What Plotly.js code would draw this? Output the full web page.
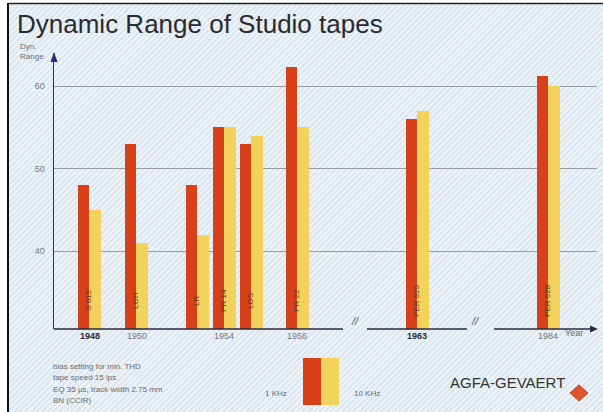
<!DOCTYPE html>
<html>
<head>
<meta charset="utf-8">
<script src="https://cdn.plot.ly/plotly-3.0.1.min.js"></script>
<style>
  html, body { margin: 0; padding: 0; background: #ffffff; }
  #chart {
    width: 603px; height: 412px;
    background: repeating-linear-gradient(135deg, #dbe6ef 0px, #dbe6ef 2px, #eef3f7 2px, #eef3f7 4px);
  }
</style>
</head>
<body>
<div id="chart"></div>
<script>
// ---- data ----
const tapes  = ["S 015", "LGH", "LR", "PR 14", "LGS", "PR 22", "PER 525", "PER 528"];
const years  = [1948, 1950, 1954, 1954, 1954, 1956, 1963, 1984];
const khz1   = [48, 53, 48, 55, 53, 62.3, 56, 61.2];   // 1 kHz
const khz10  = [45, 41, 42, 55, 54, 55, 57, 60];       // 10 kHz
const yearTickText = ["1948", "1950", "1954", "1956", "1963", "1984"];
const boldYears = ["1948", "1963"];
const yTicks = [40, 50, 60];
const notes = ["bias setting for min. THD", "tape speed 15 ips", "EQ 35 \u00b5s, track width 2.75 mm", "BN (CCIR)"];

// ---- layout helpers (positions on the time axis, in plot units) ----
const slotX = [89, 136, 197, 224, 251, 297, 417, 548];
const yearTickX = [90, 137, 224, 297, 417, 548];
const BW = 11.5;
const RED = "#d8401a", YEL = "#f3d25c";

const L = 54, R = 6, T = 53, B = 83, W = 603, H = 412;
const pw = W - L - R, ph = H - T - B;
const px = x => (x - L) / pw;          // pixel -> paper x
const py = y => (H - B - y) / ph;      // pixel -> paper y
const FONT = "Liberation Sans, Arial";

const traces = [
  { type: "bar", name: "1 KHz", x: slotX, y: khz1, width: BW, offset: -BW,
    marker: { color: RED, line: { width: 0 } }, hoverinfo: "skip", showlegend: false },
  { type: "bar", name: "10 KHz", x: slotX, y: khz10, width: BW, offset: 0,
    marker: { color: YEL, line: { width: 0 } }, hoverinfo: "skip", showlegend: false }
];

const ann = [];
// tape names on the bars
tapes.forEach((t, i) => ann.push({ x: slotX[i], y: 34, xref: "x", yref: "y", text: t, textangle: -90,
  showarrow: false, font: { family: FONT, size: 8, color: "#4a3a20" } }));
// axis titles
ann.push({ x: px(18), y: py(46), xref: "paper", yref: "paper", text: "Dyn.", xanchor: "left", yanchor: "middle",
  showarrow: false, font: { family: FONT, size: 8, color: "#6a6a7a" } });
ann.push({ x: px(18), y: py(56), xref: "paper", yref: "paper", text: "Range", xanchor: "left", yanchor: "middle",
  showarrow: false, font: { family: FONT, size: 8, color: "#6a6a7a" } });
ann.push({ x: px(585), y: py(340), xref: "paper", yref: "paper", text: "Year", showarrow: false,
  font: { family: FONT, size: 9, color: "#6a6a6a" } });
// axis break marks
[355, 481].forEach(x => ann.push({ x: px(x), y: py(329), xref: "paper", yref: "paper", text: "<i>//</i>",
  showarrow: false, font: { family: FONT, size: 11, color: "#555" } }));
// notes
notes.forEach((n, i) => ann.push({ x: px(51), y: py(366 + i * 11.5), xref: "paper", yref: "paper", text: n,
  xanchor: "left", yanchor: "middle", showarrow: false, font: { family: FONT, size: 8, color: "#6a6a72" } }));
// legend labels
ann.push({ x: px(276), y: py(400), xref: "paper", yref: "paper", text: "1 KHz", showarrow: false,
  font: { family: FONT, size: 8, color: "#6a6a72" } });
ann.push({ x: px(367), y: py(400), xref: "paper", yref: "paper", text: "10 KHz", showarrow: false,
  font: { family: FONT, size: 8, color: "#6a6a72" } });
// brand
ann.push({ x: px(567), y: py(393), xref: "paper", yref: "paper", text: "AGFA-GEVAERT", xanchor: "right",
  showarrow: false, font: { family: FONT, size: 15, color: "#333" } });

const shapes = [
  // white margins and frame
  { type: "rect", xref: "paper", yref: "paper", x0: px(-5), x1: px(8), y0: py(420), y1: py(-5), fillcolor: "#ffffff", line: { width: 0 }, layer: "below" },
  { type: "rect", xref: "paper", yref: "paper", x0: px(-5), x1: px(610), y0: py(3), y1: py(-5), fillcolor: "#ffffff", line: { width: 0 }, layer: "below" },
  { type: "line", xref: "paper", yref: "paper", x0: px(8), x1: px(8), y0: py(3), y1: py(412), line: { color: "#111", width: 2 } },
  { type: "line", xref: "paper", yref: "paper", x0: px(8), x1: px(603), y0: py(3.5), y1: py(3.5), line: { color: "#222", width: 1.5 } },
  // baseline with breaks
  { type: "line", xref: "paper", yref: "paper", x0: 0, x1: px(343), y0: 0, y1: 0, line: { color: "#2a2a40", width: 1.5 } },
  { type: "line", xref: "paper", yref: "paper", x0: px(367), x1: px(467), y0: 0, y1: 0, line: { color: "#2a2a40", width: 1.5 } },
  { type: "line", xref: "paper", yref: "paper", x0: px(494), x1: px(592), y0: 0, y1: 0, line: { color: "#2a2a40", width: 1.5 } },
  // arrow heads
  { type: "path", xref: "paper", yref: "paper", path: `M ${px(590)} ${py(325.5)} L ${px(598)} ${py(329)} L ${px(590)} ${py(332.5)} Z`, fillcolor: "#2a2a40", line: { width: 0 } },
  { type: "path", xref: "paper", yref: "paper", path: `M ${px(50.5)} ${py(62)} L ${px(54)} ${py(52)} L ${px(57.5)} ${py(62)} Z`, fillcolor: "#2b2b7a", line: { width: 0 } },
  // legend swatches
  { type: "rect", xref: "paper", yref: "paper", x0: px(303), x1: px(321), y0: py(405), y1: py(358), fillcolor: RED, line: { width: 0 } },
  { type: "rect", xref: "paper", yref: "paper", x0: px(321), x1: px(339), y0: py(405), y1: py(358), fillcolor: YEL, line: { width: 0 } },
  // logo diamond
  { type: "path", xref: "paper", yref: "paper", path: `M ${px(570)} ${py(393)} L ${px(579)} ${py(385)} L ${px(588)} ${py(393)} L ${px(579)} ${py(401)} Z`, fillcolor: "#e0562c", line: { color: "#c84020", width: 1 } }
];

const tickText = yearTickText.map(t => boldYears.includes(t)
  ? `<b><span style="color:#2a2a3a">${t}</span></b>` : `<span style="color:#77777f">${t}</span>`);

const layout = {
  width: W, height: H,
  margin: { l: L, r: R, t: T, b: B },
  paper_bgcolor: "rgba(0,0,0,0)", plot_bgcolor: "rgba(0,0,0,0)",
  title: { text: "Dynamic Range of Studio tapes", x: 17 / W, xanchor: "left", xref: "container",
    y: 1 - 24 / H, yanchor: "middle", yref: "container",
    font: { family: FONT, size: 26, color: "#2a2a30" } },
  xaxis: { range: [L, W - R], showgrid: false, zeroline: false, showline: false,
    tickvals: yearTickX, ticktext: tickText, ticks: "",
    tickfont: { family: FONT, size: 9, color: "#77777f" }, fixedrange: true },
  yaxis: { range: [30.6, 64], tickvals: yTicks, ticks: "", showgrid: true, gridcolor: "#9a9aa2", gridwidth: 1,
    zeroline: false, showline: true, linecolor: "#2b2b7a", linewidth: 1.5, ticklabelstandoff: 6,
    tickfont: { family: FONT, size: 9, color: "#77777f" }, fixedrange: true },
  bargap: 0, showlegend: false, hovermode: false,
  annotations: ann, shapes: shapes
};

Plotly.newPlot("chart", traces, layout, { displayModeBar: false, staticPlot: true });
</script>
</body>
</html>
